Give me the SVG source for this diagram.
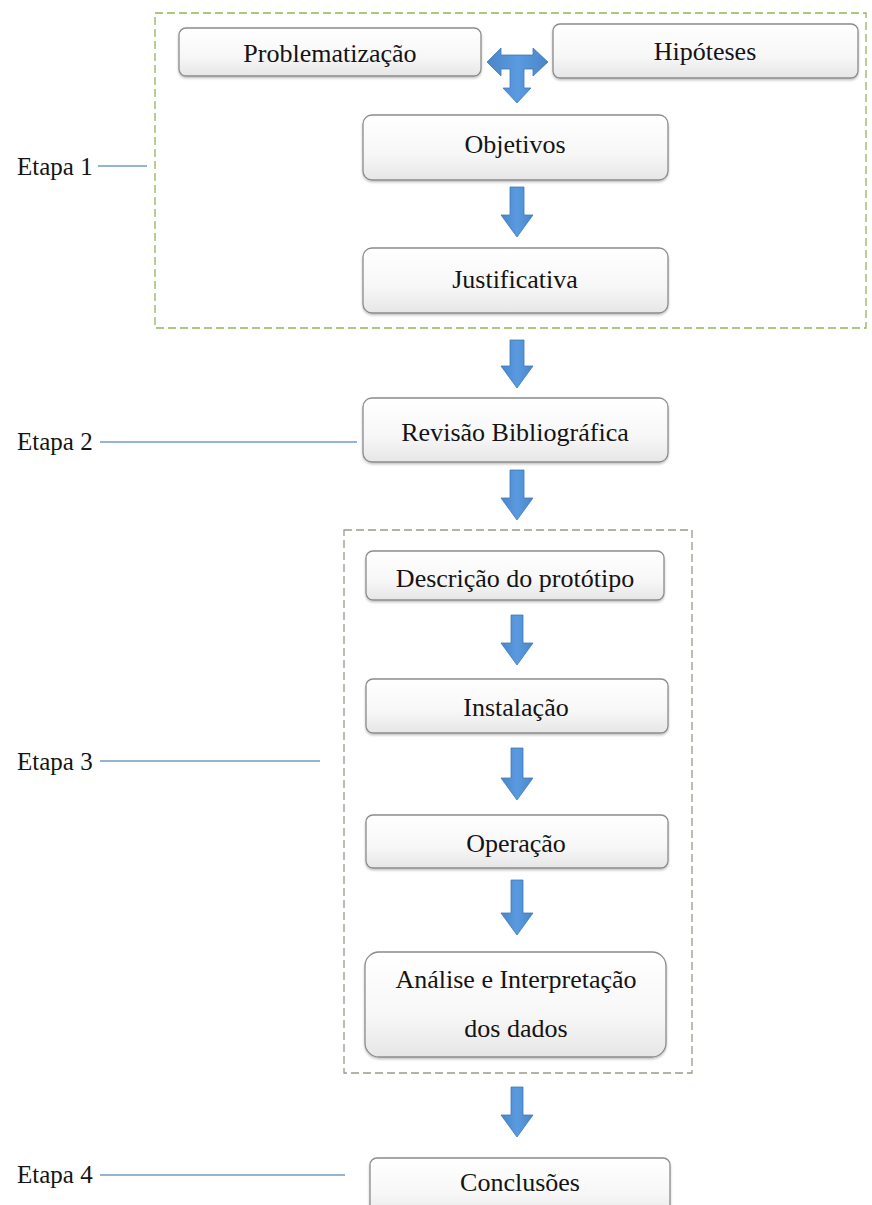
<svg xmlns="http://www.w3.org/2000/svg" width="872" height="1205" viewBox="0 0 872 1205">
<defs>
<linearGradient id="boxg" x1="0" y1="0" x2="0" y2="1">
<stop offset="0" stop-color="#ffffff"/>
<stop offset="0.6" stop-color="#f7f7f7"/>
<stop offset="1" stop-color="#e6e6e6"/>
</linearGradient>
<linearGradient id="arrg" x1="0" y1="0" x2="1" y2="0">
<stop offset="0" stop-color="#4a86c8"/>
<stop offset="0.5" stop-color="#5a9ae0"/>
<stop offset="1" stop-color="#4a86c8"/>
</linearGradient>
<filter id="sh" x="-5%" y="-10%" width="110%" height="130%">
<feDropShadow dx="0" dy="1.5" stdDeviation="1.2" flood-color="#000" flood-opacity="0.25"/>
</filter>
</defs>
<style>
.box{fill:url(#boxg);stroke:#8c8c8c;stroke-width:1.3;filter:url(#sh)}
text{font-family:'Liberation Serif','Times New Roman',serif;fill:#141414}
.t{text-anchor:middle;font-size:26px}
.lab{font-size:25px}
.arr{fill:url(#arrg);stroke:#3f78b8;stroke-width:0.8}
.lead{stroke:#6f9cc2;stroke-width:1.5;fill:none}
.grp1{fill:none;stroke:#93b45a;stroke-width:1.3;stroke-dasharray:8 4}
.grp3{fill:none;stroke:#9a9c8a;stroke-width:1.3;stroke-dasharray:8 4}
</style>
<rect width="872" height="1205" fill="#ffffff"/>

<g id="etapa1-group"><rect class="grp1" x="155" y="13" width="711" height="315"/></g>
<g id="etapa3-group"><rect class="grp3" x="344" y="530" width="348" height="543"/></g>

<g id="labels">
<g id="etapa1"><text class="lab" x="17" y="175">Etapa 1</text></g>
<g id="etapa2"><text class="lab" x="17" y="450">Etapa 2</text></g>
<g id="etapa3"><text class="lab" x="17" y="770">Etapa 3</text></g>
<g id="etapa4"><text class="lab" x="17" y="1183">Etapa 4</text></g>
</g>

<g id="nodes">
<g id="n-problematizacao"><rect class="box" x="179" y="28" width="302" height="48" rx="7"/><text class="t" x="330" y="62">Problematização</text></g>
<g id="n-hipoteses"><rect class="box" x="553" y="24" width="305" height="54" rx="7"/><text class="t" x="705" y="60">Hipóteses</text></g>
<g id="n-objetivos"><rect class="box" x="363" y="115" width="305" height="65" rx="9"/><text class="t" x="515" y="153">Objetivos</text></g>
<g id="n-justificativa"><rect class="box" x="363" y="248" width="305" height="65" rx="9"/><text class="t" x="515" y="288">Justificativa</text></g>
<g id="n-revisao"><rect class="box" x="363" y="398" width="305" height="64" rx="9"/><text class="t" x="515" y="441">Revisão Bibliográfica</text></g>
<g id="n-descricao"><rect class="box" x="366" y="551" width="298" height="49" rx="7"/><text class="t" x="515" y="587">Descrição do protótipo</text></g>
<g id="n-instalacao"><rect class="box" x="366" y="679" width="302" height="54" rx="7"/><text class="t" x="516" y="716">Instalação</text></g>
<g id="n-operacao"><rect class="box" x="366" y="815" width="302" height="53" rx="7"/><text class="t" x="516" y="852">Operação</text></g>
<g id="n-analise"><rect class="box" x="365" y="952" width="301" height="105" rx="14"/><text class="t" x="516" y="988">Análise e Interpretação</text><text class="t" x="516" y="1037">dos dados</text></g>
<g id="n-conclusoes"><rect class="box" x="370" y="1158" width="300" height="60" rx="7"/><text class="t" x="520" y="1191">Conclusões</text></g>
</g>

<g id="connectors">
<line class="lead" x1="98" y1="166" x2="147" y2="166"/>
<line class="lead" x1="100" y1="442" x2="357" y2="442"/>
<line class="lead" x1="100" y1="761" x2="320" y2="761"/>
<line class="lead" x1="100" y1="1175" x2="345" y2="1175"/>
<path class="arr" d="M487,62 L501,48 L501,55 L533,55 L533,48 L548,62 L533,76 L533,69 L524,69 L524,88 L531,88 L517,103 L503,88 L510,88 L510,69 L501,69 L501,76 Z"/>
<path class="arr" d="M510,187 H524 V215 H533 L517,237 L501,215 H510 Z"/>
<path class="arr" d="M510,340 H524 V366 H533 L517,388 L501,366 H510 Z"/>
<path class="arr" d="M510,470 H524 V498 H533 L517,520 L501,498 H510 Z"/>
<path class="arr" d="M511,615 H523 V643 H533 L517,665 L501,643 H511 Z"/>
<path class="arr" d="M511,748 H523 V778 H533 L517,800 L501,778 H511 Z"/>
<path class="arr" d="M511,880 H523 V913 H533 L517,935 L501,913 H511 Z"/>
<path class="arr" d="M511,1087 H523 V1115 H533 L517,1137 L501,1115 H511 Z"/>
</g>
</svg>
